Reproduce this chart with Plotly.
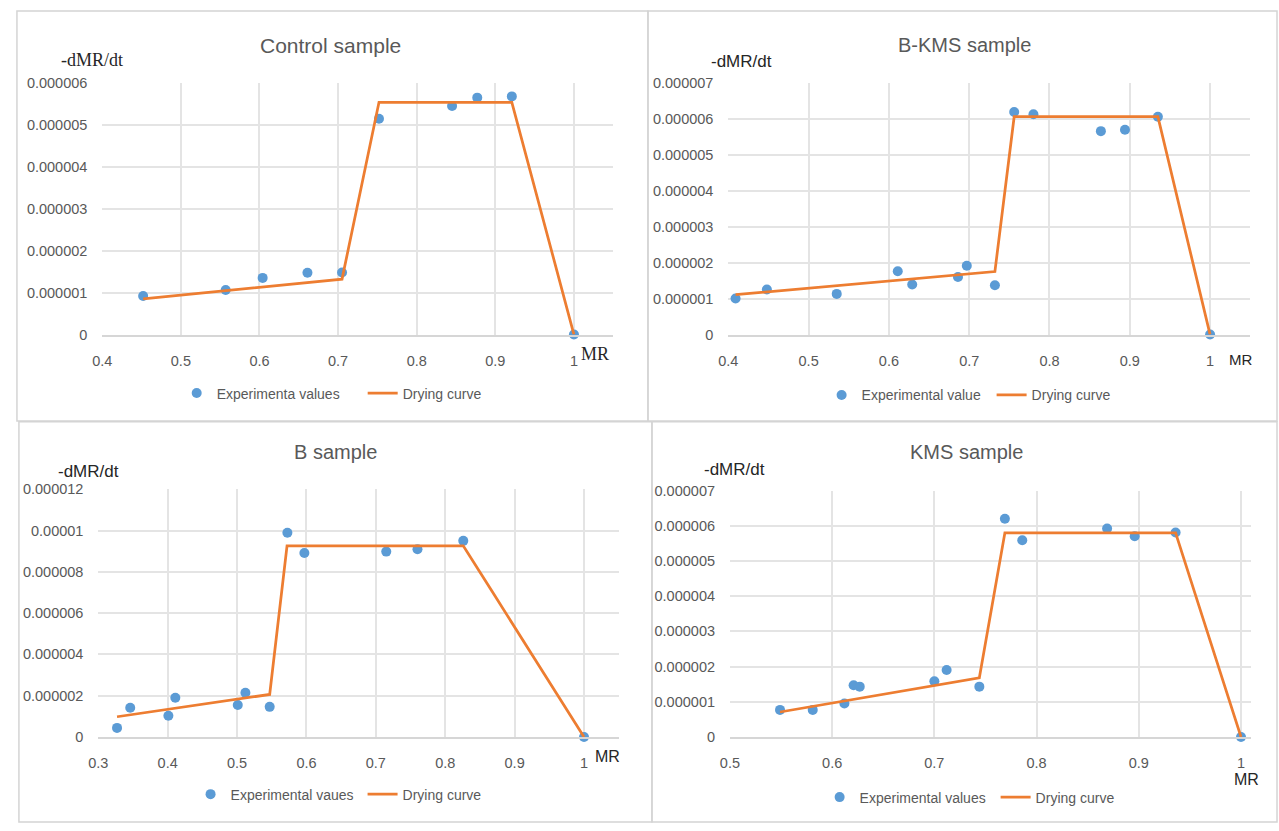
import plotly.graph_objects as go

W, H = 1279, 831

# ---------------- data ----------------
# Control sample
control_mr = [0.452, 0.557, 0.604, 0.661, 0.705, 0.752, 0.845, 0.877, 0.921, 1.0]
control_rate = [0.92e-6, 1.06e-6, 1.35e-6, 1.47e-6, 1.48e-6, 5.14e-6, 5.44e-6, 5.64e-6, 5.67e-6, 0.0]
control_curve_mr = [0.452, 0.705, 0.752, 0.921, 1.0]
control_curve_rate = [0.85e-6, 1.32e-6, 5.53e-6, 5.53e-6, 0.0]

# B-KMS sample
bkms_mr = [0.409, 0.448, 0.535, 0.611, 0.629, 0.686, 0.697, 0.732, 0.756, 0.780, 0.864, 0.894, 0.935, 1.0]
bkms_rate = [1.0e-6, 1.25e-6, 1.13e-6, 1.76e-6, 1.39e-6, 1.60e-6, 1.91e-6, 1.37e-6, 6.18e-6, 6.12e-6,
             5.65e-6, 5.69e-6, 6.05e-6, 0.0]
bkms_curve_mr = [0.409, 0.732, 0.756, 0.935, 1.0]
bkms_curve_rate = [1.11e-6, 1.75e-6, 6.05e-6, 6.05e-6, 0.0]

# B sample
b_mr = [0.327, 0.346, 0.401, 0.411, 0.501, 0.512, 0.547, 0.5725, 0.597, 0.715, 0.760, 0.826, 1.0]
b_rate = [0.44e-6, 1.42e-6, 1.03e-6, 1.90e-6, 1.55e-6, 2.14e-6, 1.46e-6, 9.89e-6, 8.91e-6, 8.98e-6,
          9.09e-6, 9.50e-6, 0.0]
b_curve_mr = [0.327, 0.547, 0.572, 0.826, 0.867, 1.0]
b_curve_rate = [0.98e-6, 2.06e-6, 9.26e-6, 9.26e-6, 7.08e-6, 0.0]

# KMS sample
kms_mr = [0.549, 0.581, 0.612, 0.621, 0.627, 0.700, 0.712, 0.744, 0.769, 0.786, 0.869, 0.896, 0.936, 1.0]
kms_rate = [0.77e-6, 0.77e-6, 0.95e-6, 1.47e-6, 1.43e-6, 1.58e-6, 1.90e-6, 1.43e-6, 6.20e-6, 5.59e-6,
            5.92e-6, 5.70e-6, 5.81e-6, 0.0]
kms_curve_mr = [0.549, 0.744, 0.769, 0.936, 0.962, 1.0]
kms_curve_rate = [0.71e-6, 1.68e-6, 5.80e-6, 5.80e-6, 3.44e-6, 0.0]

# tick labels
x_ticks_a = [0.4, 0.5, 0.6, 0.7, 0.8, 0.9, 1.0]
x_ticklabels_a = ["0.4", "0.5", "0.6", "0.7", "0.8", "0.9", "1"]
x_ticks_b = [0.3, 0.4, 0.5, 0.6, 0.7, 0.8, 0.9, 1.0]
x_ticklabels_b = ["0.3", "0.4", "0.5", "0.6", "0.7", "0.8", "0.9", "1"]
x_ticks_k = [0.5, 0.6, 0.7, 0.8, 0.9, 1.0]
x_ticklabels_k = ["0.5", "0.6", "0.7", "0.8", "0.9", "1"]
y_ticks_6 = [0, 1e-6, 2e-6, 3e-6, 4e-6, 5e-6, 6e-6]
y_ticklabels_6 = ["0", "0.000001", "0.000002", "0.000003", "0.000004", "0.000005", "0.000006"]
y_ticks_7 = [0, 1e-6, 2e-6, 3e-6, 4e-6, 5e-6, 6e-6, 7e-6]
y_ticklabels_7 = ["0", "0.000001", "0.000002", "0.000003", "0.000004", "0.000005", "0.000006", "0.000007"]
y_ticks_12 = [0, 2e-6, 4e-6, 6e-6, 8e-6, 10e-6, 12e-6]
y_ticklabels_12 = ["0", "0.000002", "0.000004", "0.000006", "0.000008", "0.00001", "0.000012"]

titles = ["Control sample", "B-KMS sample", "B sample", "KMS sample"]
exp_names = ["Experimenta values", "Experimental value", "Experimental vaues", "Experimental values"]
curve_name = "Drying curve"

# ---------------- style ----------------
BLUE = "#5B9BD5"
ORANGE = "#ED7D31"
GRID = "#E4E4E4"
AXIS = "#D6D6D6"
TXT = "#595959"
DARK = "#262626"
SANS = "Liberation Sans, Arial, sans-serif"
SERIF = "Liberation Serif, Times New Roman, serif"


def fx(p):
    return p / W


def fy(p):
    return 1 - p / H


# window-pixel plot boxes (left, right, top, bottom)
boxes = [(93, 608, 76, 333), (724, 1250, 76, 333), (89, 613.5, 490.7, 743.3), (725.6, 1250.5, 492, 743.3)]
xranges = [[0.4, 1.05], [0.4, 1.05], [0.3, 1.05], [0.5, 1.0095]]
yranges = [[0, 6e-6], [0, 7e-6], [0, 12e-6], [0, 7e-6]]
xt = [(x_ticks_a, x_ticklabels_a), (x_ticks_a, x_ticklabels_a), (x_ticks_b, x_ticklabels_b),
      (x_ticks_k, x_ticklabels_k)]
yt = [(y_ticks_6, y_ticklabels_6), (y_ticks_7, y_ticklabels_7), (y_ticks_12, y_ticklabels_12),
      (y_ticks_7, y_ticklabels_7)]
series = [
    (control_mr, control_rate, control_curve_mr, control_curve_rate),
    (bkms_mr, bkms_rate, bkms_curve_mr, bkms_curve_rate),
    (b_mr, b_rate, b_curve_mr, b_curve_rate),
    (kms_mr, kms_rate, kms_curve_mr, kms_curve_rate),
]
# legend: (left of first entry, vertical centre, width given to the first entry's text)
legend_pos = [(168, 393, 141), (818, 395, 125), (182, 802, 127), (816, 805, 131)]

fig = go.Figure()
layout = dict(width=W, height=H, autosize=False, margin=dict(l=0, r=0, t=0, b=0),
              paper_bgcolor="white", plot_bgcolor="white", showlegend=True)

for i in range(4):
    n = "" if i == 0 else str(i + 1)
    xa, ya = "x" + n, "y" + n
    lg = "legend" + n
    mx, my, cx, cy = series[i]
    lx, ly, lw = legend_pos[i]
    fig.add_trace(go.Scatter(x=mx, y=my, mode="markers", name=exp_names[i], xaxis=xa, yaxis=ya,
                             legend=lg, legendwidth=lw, cliponaxis=False,
                             marker=dict(color=BLUE, size=10)))
    fig.add_trace(go.Scatter(x=cx, y=cy, mode="lines", name=curve_name, xaxis=xa, yaxis=ya,
                             legend=lg, cliponaxis=False,
                             line=dict(color=ORANGE, width=2.75)))
    l, r, t, b = boxes[i]
    layout["xaxis" + n] = dict(domain=[fx(l), fx(r)], range=xranges[i], anchor=ya,
                               tickvals=xt[i][0], ticktext=xt[i][1], showgrid=True, gridcolor=GRID,
                               gridwidth=1.5, zeroline=False, showline=True, linecolor=AXIS, linewidth=1.5,
                               ticks="outside", ticklen=12, tickcolor="rgba(0,0,0,0)",
                               tickfont=dict(family=SANS, size=14.5, color=TXT), fixedrange=True)
    layout["yaxis" + n] = dict(domain=[fy(b), fy(t)], range=yranges[i], anchor=xa,
                               tickvals=yt[i][0], ticktext=yt[i][1], showgrid=True, gridcolor=GRID,
                               gridwidth=1.5, zeroline=False, showline=False,
                               ticks="outside", ticklen=11, tickcolor="rgba(0,0,0,0)",
                               tickfont=dict(family=SANS, size=14.5, color=TXT), fixedrange=True)
    layout[lg] = dict(orientation="h", x=fx(lx), y=fy(ly), xanchor="left", yanchor="middle",
                      font=dict(family=SANS, size=14, color=TXT), bgcolor="rgba(0,0,0,0)",
                      itemclick=False, itemdoubleclick=False)

# panel frames
frames = [(7, 3, 643, 421), (643, 3, 1277, 421), (9, 422, 647, 830), (647, 422, 1277, 830)]
shapes = []
for (x0, y0, x1, y1) in frames:
    shapes.append(dict(type="rect", xref="paper", yref="paper", x0=fx(x0), x1=fx(x1), y0=fy(y1), y1=fy(y0),
                       line=dict(color="#D4D4D4", width=1.5), fillcolor="rgba(0,0,0,0)", layer="below"))
layout["shapes"] = shapes

ann = []
title_pos = [(323.5, 38, 21), (962, 38, 20), (328, 453, 20), (964, 453, 20)]
for i in range(4):
    x, y, s = title_pos[i]
    ann.append(dict(text=titles[i], x=fx(x), y=fy(y), xref="paper", yref="paper",
                    showarrow=False, xanchor="center", yanchor="middle",
                    font=dict(family=SANS, size=s, color=TXT)))
ylab = [(49, 53, SERIF, 18), (705, 55, SANS, 17), (46, 473, SANS, 17), (697, 471, SANS, 17)]
for (x, y, f, s) in ylab:
    ann.append(dict(text="-dMR/dt", x=fx(x), y=fy(y), xref="paper", yref="paper", showarrow=False,
                    xanchor="left", yanchor="middle", font=dict(family=f, size=s, color=DARK)))
mrlab = [(573.5, 353, SERIF, 18), (1227, 358, SANS, 15), (588, 763, SANS, 16), (1232, 787, SANS, 16)]
for (x, y, f, s) in mrlab:
    ann.append(dict(text="MR", x=fx(x), y=fy(y), xref="paper", yref="paper", showarrow=False,
                    xanchor="left", yanchor="middle", font=dict(family=f, size=s, color=DARK)))
layout["annotations"] = ann

fig.update_layout(**layout)
fig.write_html("out.html", config={"displayModeBar": False},
               post_script="document.body.style.margin='0';document.body.style.overflow='hidden';")
